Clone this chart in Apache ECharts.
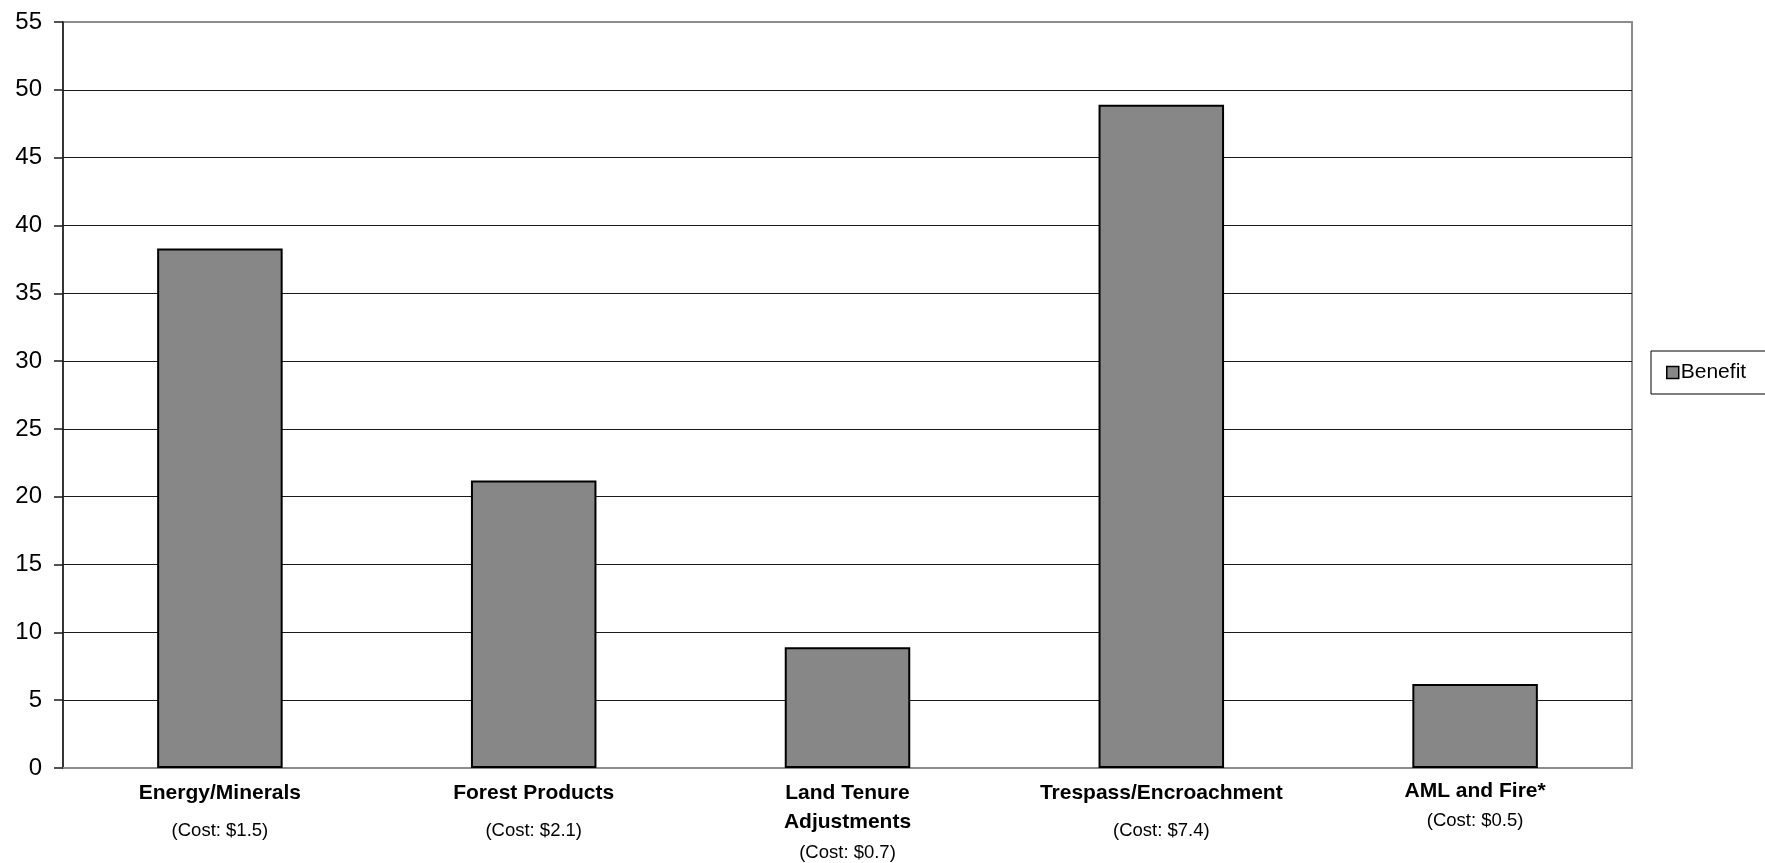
<!DOCTYPE html>
<html>
<head>
<meta charset="utf-8">
<title>Benefit by Program Area</title>
<script src="https://cdn.jsdelivr.net/npm/echarts@6/dist/echarts.min.js"></script>
<style>
  html, body { margin: 0; padding: 0; background: #ffffff; }
  #chart { width: 1765px; height: 863px; }
</style>
</head>
<body>
<div id="chart"></div>
<script>
// Program areas, their costs and the benefit for each
const categoryNames = ['Energy/Minerals', 'Forest Products', 'Land Tenure\nAdjustments', 'Trespass/Encroachment', 'AML and Fire*'];
const costLabels = ['(Cost: $1.5)', '(Cost: $2.1)', '(Cost: $0.7)', '(Cost: $7.4)', '(Cost: $0.5)'];
const benefitValues = [38.3, 21.2, 8.9, 48.9, 6.2];
const seriesName = 'Benefit';

const FONT = "'Liberation Sans', Arial, Helvetica, sans-serif";

// Build the two-part category label: bold name, then the cost line
function categoryLabel(value, index) {
  const name = categoryNames[index];
  const lines = name.split('\n').map(function (l) { return '{b|' + l + '}'; });
  let costStyle = 'c';
  if (lines.length > 1) costStyle = 'cs';
  if (index === 4) { lines[0] = '{bt|' + name + '}'; costStyle = 'ct'; }
  return lines.join('\n') + '\n{' + costStyle + '|' + costLabels[index] + '}';
}

// Light grey frame at the top, dark gridlines elsewhere
const gridColors = [];
for (let v = 0; v <= 55; v += 5) gridColors.push(v === 55 ? '#8c8c8c' : '#1a1a1a');

const boldText = { fontFamily: FONT, fontSize: 21, fontWeight: 'bold', color: '#000000' };
const costText = { fontFamily: FONT, fontSize: 18.5, color: '#000000' };

const chart = echarts.init(document.getElementById('chart'), null, { renderer: 'canvas' });
chart.setOption({
  backgroundColor: '#ffffff',
  animation: false,
  textStyle: { fontFamily: FONT },
  grid: {
    left: 63, top: 22, right: 133, bottom: 95,
    show: true,
    borderColor: '#8c8c8c',
    borderWidth: 2,
    backgroundColor: 'transparent',
    containLabel: false
  },
  legend: {
    left: 1651,
    top: 351,
    orient: 'vertical',
    data: [{ name: seriesName, icon: 'rect' }],
    itemWidth: 12,
    itemHeight: 12,
    padding: [11, 40, 11, 15],
    borderColor: '#000000',
    borderWidth: 1,
    backgroundColor: '#ffffff',
    borderRadius: 0,
    itemStyle: { borderColor: '#000000', borderWidth: 1.5 },
    textStyle: { fontFamily: FONT, fontSize: 21, color: '#000000', padding: [0, 0, 0, -3] }
  },
  xAxis: {
    type: 'category',
    data: categoryNames,
    axisLine: { show: true, lineStyle: { color: '#8c8c8c', width: 2 } },
    axisTick: { show: false },
    splitLine: { show: false },
    axisLabel: {
      interval: 0,
      margin: 11,
      color: '#000000',
      formatter: categoryLabel,
      rich: {
        b:  Object.assign({ lineHeight: 29 }, boldText),
        bt: Object.assign({ lineHeight: 24 }, boldText),
        c:  Object.assign({ lineHeight: 46 }, costText),
        cs: Object.assign({ lineHeight: 32 }, costText),
        ct: Object.assign({ lineHeight: 35 }, costText)
      }
    }
  },
  yAxis: {
    type: 'value',
    min: 0,
    max: 55,
    interval: 5,
    axisLine: { show: true, lineStyle: { color: '#1a1a1a', width: 1.5 } },
    axisTick: { show: true, inside: false, length: 9, lineStyle: { color: '#1a1a1a', width: 1.5 } },
    axisLabel: { fontFamily: FONT, fontSize: 24, color: '#000000', margin: 21 },
    splitLine: { show: true, lineStyle: { color: gridColors, width: 1.2 } }
  },
  series: [{
    name: seriesName,
    type: 'bar',
    data: benefitValues,
    barWidth: '40%',
    itemStyle: { color: '#878787', borderColor: '#000000', borderWidth: 2 },
    emphasis: { disabled: true }
  }]
});
</script>
</body>
</html>
